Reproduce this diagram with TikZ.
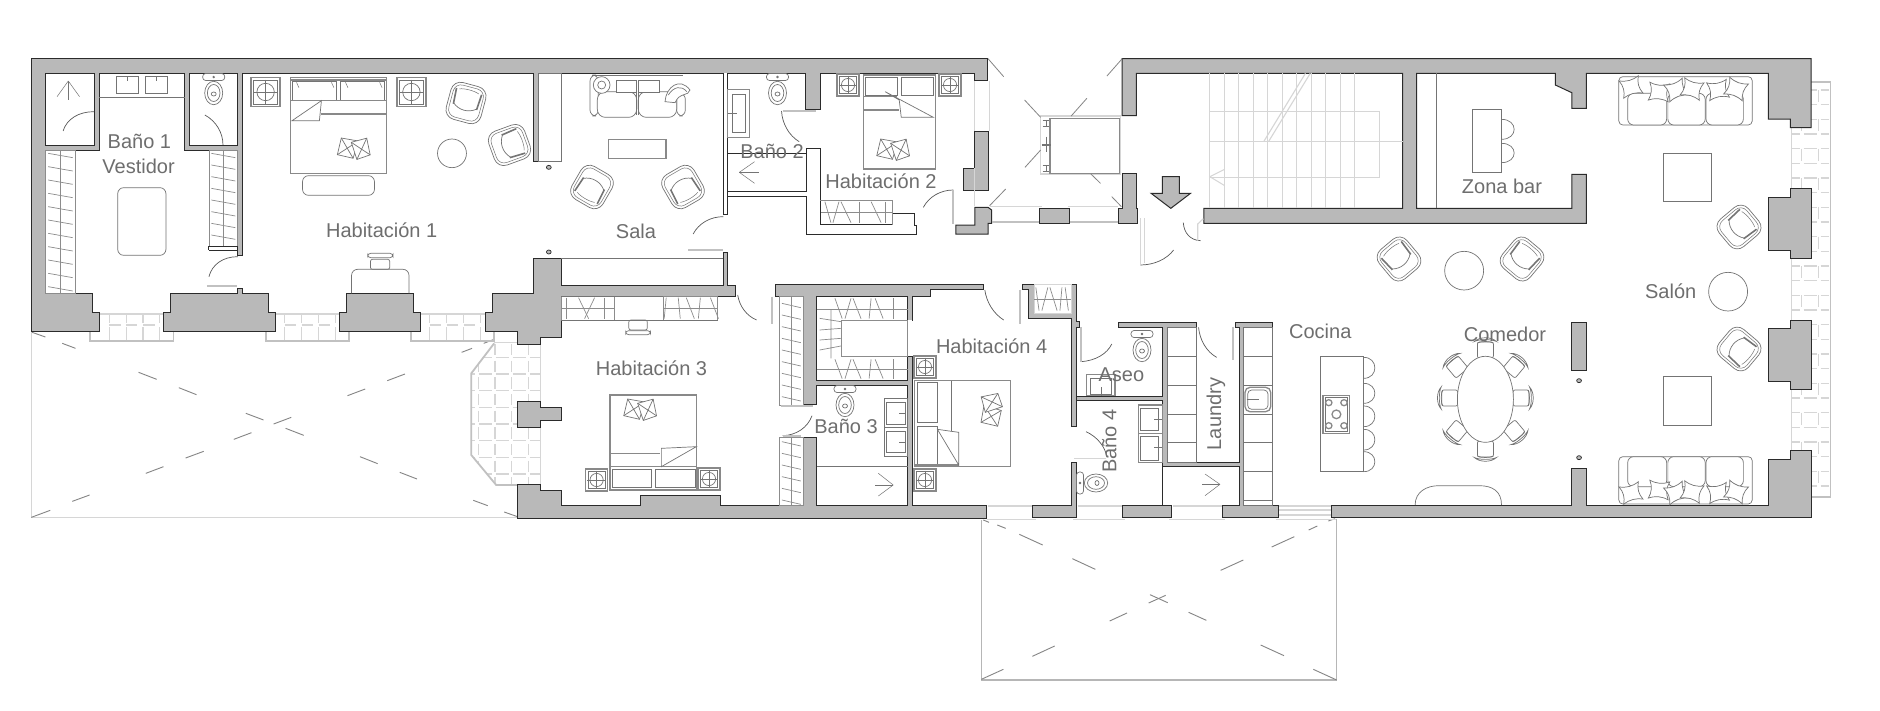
\documentclass[tikz,border=0pt]{standalone}
\usepackage{fontspec}
\usetikzlibrary{calc}
\setmainfont{Liberation Sans}
\definecolor{wallc}{HTML}{B9B9B9}
\definecolor{wline}{HTML}{2B2B2B}
\definecolor{furn}{HTML}{747474}
\definecolor{wardc}{HTML}{8C8C8C}
\definecolor{litec}{HTML}{D6D6D6}
\definecolor{dashc}{HTML}{858585}
\definecolor{txtc}{HTML}{6E6E6E}
\tikzset{
 zone/.style={shift={(0,30)},x=0.40177pt,y=-0.33333pt},
 ztwo/.style={shift={(620,30)},x=0.40177pt,y=-0.33333pt},
 zthree/.style={shift={(1250,30)},x=0.40177pt,y=-0.33333pt},
 zfour/.style={shift={(0,300)},x=0.40177pt,y=-0.33333pt},
 zfive/.style={shift={(620,270)},x=0.40177pt,y=-0.33333pt},
 zsix/.style={shift={(1250,270)},x=0.40177pt,y=-0.33333pt},
 zseven/.style={shift={(940,490)},x=0.33333pt,y=-0.33333pt},
 znine/.style={shift={(1060,300)},x=0.33333pt,y=-0.33333pt},
 zten/.style={shift={(540,60)},x=0.33333pt,y=-0.33333pt},
 wall/.style={fill=wallc,draw=wline,line width=1pt,line join=miter},
 hole/.style={fill=white,draw=wline,line width=1pt},
 thinw/.style={draw=wline,line width=.9pt},
 fur/.style={draw=furn,line width=.7pt},
 wrd/.style={draw=wardc,line width=.7pt},
 furb/.style={draw=furn!85,line width=1.3pt},
 lite/.style={draw=litec,line width=1.1pt},
 litet/.style={draw=litec!90!black,line width=1.8pt},
 dashl/.style={draw=dashc,line width=.9pt},
 doorarc/.style={draw=black!65,line width=.7pt},
 lab/.style={text=txtc,font=\fontsize{20}{22}\selectfont,inner sep=0pt},
 achair/.pic={
  \draw[fur,fill=white,rounded corners=10] (-18,-19) rectangle (18,19);
  \draw[fur,line width=.5pt,rounded corners=8] (-15.5,-16.5) -- (15.5,-16.5) -- (15.5,16.5) -- (-15.5,16.5) -- cycle;
  \draw[fur] (-12,3) .. controls (-5,9) and (5,9) .. (12,3);
  \draw[draw=furn,line width=1.6pt] (-13,-12) -- (-12,4);
  \draw[draw=furn,line width=1.6pt] (13,-12) -- (12,4);
  \draw[fur,line width=.5pt] (-10,-12) .. controls (-5,-14) and (5,-14) .. (10,-12);
 },
 wcpic/.pic={
  \draw[fur,fill=white,rounded corners=3] (-11,-19.5) rectangle (11,-12.5);
  \draw[fur,fill=white] (0,0) ellipse (9 and 11.7);
  \draw[fur] (0,0) ellipse (6.3 and 8.5);
  \draw[fur] (0,1) ellipse (2.5 and 2);
  \draw[fur,fill=furn] (0,-16) circle (.8);
 },
 decop/.pic={
  \begin{scope}[rotate=-20]
   \draw[fur,fill=white] (-16,-8) -- (1,-11) -- (2,7) -- (-14,9) -- cycle;
   \draw[fur] (-16,-8) -- (2,7) (1,-11) -- (-14,9);
  \end{scope}
  \begin{scope}[rotate=15]
   \draw[fur,fill=white] (0,-9) -- (16,-9) -- (15,8) -- (1,9) -- cycle;
   \draw[fur] (0,-9) -- (15,8) (16,-9) -- (1,9);
  \end{scope}
 },
 spil/.pic={
  \draw[fur,fill=white] (-10,-9) .. controls (-3,-6) and (3,-6) .. (10,-9)
   .. controls (7,-3) and (7,3) .. (10,9) .. controls (3,6) and (-3,6) .. (-10,9)
   .. controls (-7,3) and (-7,-3) .. (-10,-9) -- cycle;
 },
 dchair/.pic={
  \draw[fur,fill=white,rounded corners=2] (-8,-8) rectangle (8,8);
  \draw[fur,fill=white] (-11,-8.5) .. controls (-6,-13.5) and (6,-13.5) .. (11,-8.5) .. controls (6,-11) and (-6,-11) .. (-11,-8.5) -- cycle;
  \draw[fur] (-8,-7) .. controls (-4,-9) and (4,-9) .. (8,-7);
 },
}
\newcommand\door[3]{\draw[doorarc] (#1) .. controls ($(#1)!.62!(#2)$) and ($(#3)!.62!(#2)$) .. (#3);}
\newcommand\nstand[3]{%
 \draw[furb] ({#1-#3},{#2-#3}) rectangle ({#1+#3},{#2+#3});
 \draw[fur] ({#1-#3+2.5},{#2-#3+2.5}) rectangle ({#1+#3-2.5},{#2+#3-2.5});
 \draw[fur] (#1,#2) circle ({.6*#3});
 \draw[fur] ({#1-.85*#3},#2) -- ({#1+.85*#3},#2) (#1,{#2-.85*#3}) -- (#1,{#2+.85*#3});
}
\newcommand\wardV[5]{%
 \draw[wrd] (#1,#3) rectangle (#2,#4);
 \draw[wrd] ({(#1+#2)/2},#3) -- ({(#1+#2)/2},#4);
 \foreach \yy in {#5} {\draw[wrd] ({#1+6},\yy) -- ({#2-6},{\yy+13});}
}
\newcommand\wardH[5]{%
 \draw[wrd] (#1,#3) rectangle (#2,#4);
 \draw[wrd] (#1,{(#3+#4)/2}) -- (#2,{(#3+#4)/2});
 \foreach \xx/\dd in {#5} {\draw[wrd] (\xx,{#3+3}) -- ({\xx+\dd},{#4-4});}
}
\newcommand\balc[1]{%
 \draw[litet] ({#1},905) -- ({#1},933) -- ({#1+207},933) -- ({#1+207},905);
 \draw[lite] ({#1+23},852) -- ({#1+183},852) ({#1+47},885) -- ({#1+75},885) ({#1+89},885) -- ({#1+117},885) ({#1+131},885) -- ({#1+160},885);
 \foreach \dx in {47,89,131,173} {\draw[lite] ({#1+\dx},852) -- ({#1+\dx},880) ({#1+\dx},892) -- ({#1+\dx},930);}
}
\begin{document}
\begin{tikzpicture}[x=1pt,y=-1pt]
\useasboundingbox (0,0) rectangle (1880,710);
\fill[white] (0,0) rectangle (1880,710);

% --- patios
\begin{scope}[zfour]
 \draw[lite] (78,95) -- (78,652) -- (1288,652);
 \foreach \a/\b/\c/\d in {80/97/113/111,155/130/188/145,345/217/390/238,445/263/489/284,612/340/656/360,711/385/756/406,896/470/940/491,995/517/1038/537,1178/601/1214/617,1255/636/1288/650,78/652/125/631,180/604/223/585,363/520/407/500,462/474/507/454,582/418/626/398,681/372/725/352,865/287/909/267,964/242/1008/222,1149/157/1175/145,1204/130/1230/118}
  {\draw[dashl] (\a,\b) -- (\c,\d);}
 % west terrace
 \begin{scope}
  \clip (1230,130) -- (1173,220) -- (1173,465) -- (1235,555) -- (1345,555) -- (1345,130) -- cycle;
  \foreach \xx in {1190,1232,1274,1316} {\foreach \yy in {130,180,230,280,330,380,430,480,530} {\draw[lite] (\xx,{\yy+2}) -- (\xx,{\yy+36});}}
  \foreach \yy in {172,222,272,322,372,422,472,522} {\foreach \xx in {1148,1190,1232,1274,1316} {\draw[lite] ({\xx+2},\yy) -- ({\xx+34},\yy);}}
 \end{scope}
 \draw[litet] (1230,130) -- (1173,220) -- (1173,465) -- (1235,555) -- (1288,555);
 \draw[lite] (1230,127) -- (1288,127) (1345,130) -- (1345,555);
\end{scope}
\begin{scope}[zseven]
 \draw[lite,draw=litec!85!black] (124,90) -- (124,570) -- (1190,570) -- (1190,88);
 \foreach \a/\b/\c/\d in {130/90/147/97,172/105/197/115,238/133/308/165,397/206/466/238,630/314/683/338,746/367/799/391,962/465/1032/497,1120/538/1190/570,124/568/190/538,277/499/344/468,509/393/561/369,626/339/677/316,842/241/910/210,995/171/1063/140,1106/120/1132/108,1165/93/1185/86}
  {\draw[dashl] (\a,\b) -- (\c,\d);}
 \draw[lite] (143,48) -- (275,48) (140,88) -- (287,88) (413,48) -- (545,48) (400,88) -- (555,88) (700,48) -- (845,48) (688,88) -- (855,88) (1017,48) -- (1172,48) (1017,60) -- (1172,60) (1017,75) -- (1172,75) (1007,88) -- (1187,88);
\end{scope}
% --- balconies
\begin{scope}[zone]
 \balc{225}\balc{662}\balc{1023}
\end{scope}
\begin{scope}[zthree]
 \draw[litet] (1397,155) -- (1445,155) -- (1445,1400) -- (1397,1400);
 \draw[lite] (1347,293) -- (1347,476) (1347,686) -- (1347,870) (1347,1078) -- (1347,1262);
 \foreach \yy in {180,268,356,444,532,620,708,796,884,972,1060,1148,1236,1324} {\draw[lite] (1373,\yy) -- (1373,{\yy+36}) (1415,\yy) -- (1415,{\yy+36});}
 \foreach \yy in {180,224,268,312,356,400,444,488,532,576,620,664,708,752,796,840,884,928,972,1016,1060,1104,1148,1192,1236,1280,1324,1368} {\draw[lite] (1350,\yy) -- (1368,\yy) (1378,\yy) -- (1410,\yy) (1420,\yy) -- (1440,\yy);}
\end{scope}

% --- walls
\begin{scope}[zone]
 \draw[wall] (78,86) -- (2459,86) -- (2459,152) -- (2426,152) -- (2426,130) -- (2042,130) -- (2042,238) -- (2005,238) -- (2005,130) -- (1340,130) -- (1340,395) -- (1328,395) -- (1328,130) -- (604,130) -- (604,675) -- (592,675) -- (592,360) -- (460,360) -- (460,130) -- (247,130) -- (247,360) -- (114,360) -- (114,790) -- (231,790) -- (231,848) -- (248,848) -- (248,905) -- (78,905) -- cycle;
 \draw[hole] (114,130) rectangle (234,347);
 \draw[hole] (472,130) rectangle (592,347);
 \draw[wall] (425,790) -- (590,790) -- (590,776) -- (604,776) -- (604,790) -- (668,790) -- (668,848) -- (685,848) -- (685,905) -- (408,905) -- (408,848) -- (425,848) -- cycle;
 \draw[wall] (862,790) -- (1030,790) -- (1030,848) -- (1047,848) -- (1047,905) -- (845,905) -- (845,848) -- (862,848) -- cycle;
 \draw[wall] (1226,790) -- (1328,790) -- (1328,685) -- (1397,685) -- (1397,765) -- (1800,765) -- (1800,668) -- (1811,668) -- (1811,765) -- (1831,765) -- (1831,798) -- (1397,798) -- (1397,922) -- (1345,922) -- (1345,942) -- (1288,942) -- (1288,905) -- (1208,905) -- (1208,848) -- (1226,848) -- cycle;
\end{scope}
\begin{scope}[zfour]
 \draw[wall] (1288,303) -- (1345,303) -- (1345,322) -- (1397,322) -- (1397,362) -- (1345,362) -- (1345,381) -- (1288,381) -- cycle;
\end{scope}
\begin{scope}[ztwo]
 % thin white partitions
 \draw[fill=white,draw=wline,line width=.9pt] (257,130) -- (257,553) -- (268,553) -- (268,130);
 \draw[thinw] (268,485) -- (463,485) -- (463,355) -- (499,355) -- (499,582) -- (678,582) -- (678,550) -- (733,550) -- (733,585) -- (738,585) -- (738,612) -- (463,612) -- (463,498) -- (268,498);
 \draw[wall] (883,303) -- (916,303) -- (916,481) -- (855,481) -- (855,415) -- (883,415) -- cycle;
 \draw[wall] (883,532) -- (916,532) -- (925,540) -- (925,580) -- (916,580) -- (916,612) -- (836,612) -- (836,585) -- (883,585) -- cycle;
 \draw[wall] (1043,535) rectangle (1120,580);
 \draw[wall] (1250,430) -- (1285,430) -- (1285,535) -- (1288,535) -- (1288,580) -- (1240,580) -- (1240,535) -- (1250,535) -- cycle;
 \draw[wall] (1250,86) -- (2965,86) -- (2965,293) -- (2913,293) -- (2913,267) -- (2858,267) -- (2858,130) -- (2405,130) -- (2405,235) -- (2369,235) -- (2369,188) -- (2328,165) -- (2328,130) -- (1983,130) -- (1983,535) -- (2369,535) -- (2369,433) -- (2405,433) -- (2405,580) -- (1453,580) -- (1453,535) -- (1948,535) -- (1948,130) -- (1285,130) -- (1285,257) -- (1250,257) -- cycle;
\end{scope}
\begin{scope}[zthree]
 \draw[wall] (1290,502) -- (1345,502) -- (1345,476) -- (1397,476) -- (1397,686) -- (1345,686) -- (1345,662) -- (1290,662) -- cycle;
\end{scope}
\begin{scope}[zsix]
 \draw[wall] (1290,175) -- (1345,175) -- (1345,150) -- (1397,150) -- (1397,358) -- (1345,358) -- (1345,333) -- (1290,333) -- cycle;
 \draw[wall] (203,705) -- (800,705) -- (800,595) -- (838,595) -- (838,705) -- (1290,705) -- (1290,567) -- (1345,567) -- (1345,542) -- (1397,542) -- (1397,742) -- (203,742) -- cycle;
 \draw[wall] (800,156) rectangle (838,300);
 \draw[wline,line width=.7pt,fill=wallc] (819,332) circle (6);
 \draw[wline,line width=.7pt,fill=wallc] (819,563) circle (6);
\end{scope}
\begin{scope}[zfive]
 \draw[wall] (386,44) -- (905,44) -- (905,58) -- (773,58) -- (773,78) -- (728,78) -- (728,150) -- (716,150) -- (716,78) -- (490,78) -- (490,330) -- (716,330) -- (716,258) -- (728,258) -- (728,706) -- (912,706) -- (912,746) -- (-255,746) -- (-255,643) -- (-198,643) -- (-198,661) -- (-146,661) -- (-146,706) -- (52,706) -- (52,677) -- (250,677) -- (250,706) -- (456,706) -- (456,503) -- (490,503) -- (490,706) -- (716,706) -- (716,345) -- (490,345) -- (490,403) -- (456,403) -- (456,78) -- (386,78) -- cycle;
 \draw[wall] (1002,44) -- (1136,44) -- (1136,155) -- (1144,155) -- (1144,172) -- (1136,172) -- (1136,470) -- (1123,470) -- (1123,145) -- (1016,145) -- (1016,58) -- (1002,58) -- cycle;
 \draw[fill=white,draw=litec] (1030,44) -- (1123,44) -- (1123,130) -- (1030,130) -- cycle;
 \draw[wall] (1123,577) -- (1136,577) -- (1136,742) -- (1027,742) -- (1027,706) -- (1123,706) -- cycle;
\end{scope}
\begin{scope}[znine]
 \draw[wall] (175,68) -- (408,68) -- (408,82) -- (322,82) -- (322,487) -- (537,487) -- (537,82) -- (525,82) -- (525,68) -- (638,68) -- (638,82) -- (551,82) -- (551,615) -- (655,615) -- (655,652) -- (487,652) -- (487,615) -- (537,615) -- (537,500) -- (308,500) -- (308,302) -- (50,302) -- (50,288) -- (308,288) -- (308,82) -- (175,82) -- cycle;
 \draw[wall] (188,615) rectangle (335,652);
 \draw[thinw,line width=.6pt] (308,500) -- (308,615);
\end{scope}

% --- Bath 1, WC, bedroom 1 furniture
\begin{scope}[zone]
 \draw[fur] (247,202) -- (460,202);
 \draw[fur] (290,138) rectangle (344,190) (362,138) rectangle (416,190) (317,138) -- (317,152) (389,138) -- (389,152);
 \foreach \a/\b in {142/200,170/210,198/200} {\draw[fur,line width=.5pt] (170,153) -- (\a,\b);}
 \door{157,303}{172,245}{234,245}
 \door{510,255}{555,285}{555,345}
 \door{520,740}{533,680}{592,680}
 \draw[litet] (515,768) -- (590,768);
 \wardV{114}{187}{360}{790}{370,410,450,490,530,570,610,650,690,730,770}
 \wardV{520}{592}{360}{648}{370,405,440,475,510,545,580,615}
 \draw[thinw] (520,648) -- (592,648) (520,660) -- (592,660) (520,648) -- (520,660);
 \draw[fur,rounded corners=6] (293,473) rectangle (413,676);
 % bed 1
 \draw[furb] (723,142) rectangle (962,430);
 \draw[furb] (723,150) -- (962,150);
 \draw[fur] (728,155) rectangle (838,210) (848,155) rectangle (957,210);
 \foreach \a/\b in {738/165,825/165,860/165,945/165} {\draw[fur,line width=.5pt] (\a,{\b-8}) -- ({\a+6},{\b+8});}
 \draw[furb] (723,212) -- (962,212);
 \draw[furb] (800,252) -- (962,252);
 \draw[fur] (800,212) -- (727,272) -- (795,272) -- cycle;
 \draw[fur,rounded corners=6] (753,437) rectangle (932,496);
 \draw[fur] (1125,370) ellipse (36 and 43);
 % desk
 \draw[fur,rounded corners=6] (875,790) -- (875,718) -- (1018,718) -- (1018,790);
 \draw[fur,rounded corners=2] (922,718) rectangle (970,688);
 \draw[fur,rounded corners=3] (915,670) rectangle (978,683);
 % sala partition
 \draw[fur,fill=white] (1340,130) rectangle (1398,395);
 \draw[wline,line width=.7pt,fill=wallc] (1366,412) circle (6);
 \draw[wline,line width=.7pt,fill=wallc] (1366,666) circle (6);
 % desk hab 3 back
 \draw[fur] (1397,685) -- (1800,685);
 \wardH{1397}{1530}{800}{870}{1410/0,1440/25,1480/-25,1505/0}
\end{scope}
\pic[rotate=-15] at (466,103) {achair};
\pic[rotate=-70] at (509.5,145) {achair};
\nstand{265.6}{92}{14.5}
\nstand{411.4}{92}{14.5}
\pic at (213.7,93) {wcpic};
\pic at (353.6,151) {decop};

% --- Sala
\begin{scope}[zten]
 \draw[fur,rounded corners=6] (150,45) rectangle (175,168);
 \draw[fur,rounded corners=6] (410,100) rectangle (436,168);
 \draw[fur,fill=white,rounded corners=8] (172,95) rectangle (290,172);
 \draw[fur,fill=white,rounded corners=8] (295,95) rectangle (410,172);
 \draw[fur,line width=1pt] (290,95) -- (290,165) (295,95) -- (295,165);
 \draw[fur,fill=white] (228,60) rectangle (290,96);
 \draw[fur,fill=white] (295,60) rectangle (358,96);
 \draw[fur,fill=white] (185,75) circle (25);
 \draw[fur] (185,75) circle (12);
 \draw[fur,fill=white] (375,125) .. controls (378,80) and (420,50) .. (450,90) .. controls (445,110) and (420,95) .. (405,128) -- cycle;
 \draw[fur] (385,105) .. controls (400,80) and (425,75) .. (440,95);
 \draw[fur] (155,45) -- (430,45);
 \draw[furb] (205,238) rectangle (378,296);
\end{scope}
\pic[rotate=150] at (592,187) {achair};
\pic[rotate=-150] at (683,187) {achair};

% --- Bath 2 / Hab 2 / corridor
\begin{scope}[ztwo]
 \draw[furb] (268,178) rectangle (323,322);
 \draw[fur] (280,192) rectangle (311,308);
 \draw[fur] (270,250) -- (292,250);
 \draw[thinw,line width=.7pt] (268,370) -- (463,370);
 \foreach \a/\b in {335/395,345/427,335/460} {\draw[fur,line width=.5pt] (297,427) -- (\a,\b);}
 \door{402,243}{405,305}{446,335}
 \draw[litet] (405,243) -- (487,243);
 \door{182,612}{205,560}{257,560}
 \draw[litet] (170,660) -- (257,660);
 \door{755,532}{778,480}{830,480}
 \draw[litet] (828,480) -- (828,582);
 \wardH{499}{678}{512}{582}{510/15,545/-15,550/25,595/0,625/25,660/0}
 \draw[thinw] (499,512) -- (499,582) -- (678,582);
 % bed 2
 \draw[furb] (606,135) rectangle (785,417);
 \draw[fur] (610,142) rectangle (690,197) (700,142) rectangle (780,197);
 \draw[furb] (606,200) -- (690,200) (606,240) -- (695,240);
 \draw[fur,fill=white] (660,185) -- (780,262) -- (700,262) -- (695,210) -- cycle;
 % windows
 \draw[lite] (883,152) -- (883,303) (920,152) -- (920,303) (883,528) -- (883,415);
 \draw[litet] (925,575) -- (1043,575) (1120,575) -- (1240,575);
 \draw[lite] (920,530) -- (1050,530) (1115,530) -- (1240,530);
 % lift
 \draw[lite] (1047,258) rectangle (1245,432);
 \draw[furb] (1070,265) rectangle (1243,430);
 \draw[fur] (1052,272) -- (1068,272) (1060,272) -- (1060,290) (1052,290) -- (1068,290);
 \draw[fur] (1052,405) -- (1068,405) (1060,405) -- (1060,425) (1052,425) -- (1068,425);
 \draw[fur,line width=1.3pt] (1062,320) -- (1062,365) (1050,345) -- (1072,345);
 \foreach \a/\b/\c/\d in {916/86/955/140,1250/86/1212/138,1007/210/1047/262,1162/205/1123/258,1047/360/1008/412,1172/432/1196/460,960/477/920/527,1224/500/1248/530}
  {\draw[dashl,line width=.8pt] (\a,\b) -- (\c,\d);}
 % entry
 \draw[wall,line width=1pt] (1350,440) -- (1392,440) -- (1392,490) -- (1420,490) -- (1371,535) -- (1322,490) -- (1350,490) -- cycle;
 \door{1378,660}{1350,705}{1295,705}
 \draw[lite] (1295,565) -- (1295,705) (1305,565) -- (1305,700);
 \door{1402,578}{1405,630}{1445,632}
 \draw[lite] (1438,632) -- (1438,582) -- (1452,566);
 % hab 3/4 doors
 \door{293,795}{300,850}{340,870}
 \draw[litet] (378,800) -- (378,882);
 \door{908,780}{915,840}{955,870}
 \draw[litet] (995,780) -- (995,882);
 \wardH{107}{243}{800}{870}{115/-5,145/5,165/20,200/-5,225/20}
 \draw[fur] (-146,870) -- (243,870);
 \draw[fur,rounded corners=2] (22,870) rectangle (68,900);
 \draw[fur,rounded corners=3] (14,902) rectangle (76,914);
 \draw[fur] (-146,800) -- (107,800);
\end{scope}
\nstand{848}{85}{11}
\nstand{950}{85}{11}
\pic at (777.5,93) {wcpic};
\pic at (893,152) {decop};

% --- stairs, bar, salon
\begin{scope}[zthree]
 \foreach \xx in {-100,-64,-28,8,44,80,116,152,188,224,260} {\draw[lite,line width=.9pt] (\xx,130) -- (\xx,535);}
 \draw[lite,line width=.9pt] (-100,334) -- (380,334);
 \draw[lite,line width=.9pt] (-100,243) rectangle (322,443);
 \draw[lite,line width=1pt] (-63,418) -- (-100,440) -- (-63,467);
 \draw[lite] (35,333) -- (138,130) (47,333) -- (150,130);
 \draw[fur] (464,130) -- (464,535);
 \draw[fur] (554,238) rectangle (626,427);
 \draw[fur] (626,268) .. controls (668,268) and (668,328) .. (626,328);
 \draw[fur] (626,340) .. controls (668,340) and (668,398) .. (626,398);
 \draw[fur] (1028,370) rectangle (1148,514);
 \draw[fur] (533,722) ellipse (48.5 and 58);
 \draw[fur] (1190,785) ellipse (48.5 and 58);
 % upper sofa
 \draw[fur,rounded corners=4] (918,140) rectangle (1250,285);
 \draw[fur,fill=white,rounded corners=6] (940,190) rectangle (1037,285);
 \draw[fur,fill=white,rounded corners=6] (1040,190) rectangle (1133,285);
 \draw[fur,fill=white,rounded corners=6] (1135,190) rectangle (1228,285);
\end{scope}
\foreach \xx/\yy/\rr in {1631/87/15,1659/92/-5,1676/90/20,1692/89/-15,1718/90/10,1736/89/-20}
 {\pic[rotate=\rr] at (\xx,\yy) {spil};}
\pic[rotate=40] at (1399,259) {achair};
\pic[rotate=-40] at (1522,259) {achair};
\pic[rotate=-50] at (1739,227) {achair};
\pic[rotate=-130] at (1739,349) {achair};

\begin{scope}[zsix]
 \draw[fur] (1028,320) rectangle (1148,466);
 % lower sofa
 \draw[fur,rounded corners=4] (918,560) rectangle (1250,702);
 \draw[fur,fill=white,rounded corners=6] (940,560) rectangle (1037,650);
 \draw[fur,fill=white,rounded corners=6] (1040,560) rectangle (1133,650);
 \draw[fur,fill=white,rounded corners=6] (1135,560) rectangle (1228,650);
 % island
 \draw[fur] (175,258) rectangle (283,605);
 \foreach \a/\b in {262/325,340/400,408/470,478/540,545/605}
  {\draw[fur] (283,\a) .. controls (320,\a) and (320,\b) .. (283,\b);}
 \draw[furb] (182,376) rectangle (248,490);
 \draw[fur] (187,382) rectangle (243,484);
 \foreach \a/\b in {196/398,234/398,196/467,234/467} {\draw[furb] (\a,\b) ellipse (8 and 9);}
 \draw[furb] (215,433) ellipse (11 and 13);
 % half-round
 \draw[fur] (411,705) .. controls (411,665) and (440,647) .. (470,647) -- (570,647) .. controls (605,647) and (626,665) .. (626,705);
\end{scope}
\foreach \xx/\yy/\rr in {1631/493/15,1659/490/-5,1676/493/20,1692/492/-15,1718/493/10,1736/492/-20}
 {\pic[rotate=\rr] at (\xx,\yy) {spil};}
% dining
\foreach \xx/\yy/\rr in {1485.4/350/0,1485.4/449/180,1449.7/398/90,1521/398/-90,1457/367/40,1514/367/-40,1457/431/140,1514/431/-140}
 {\pic[rotate=\rr] at (\xx,\yy) {dchair};}
\draw[fur,fill=white] (1485.4,399.3) ellipse (28 and 43);

% --- central rooms
\begin{scope}[zfive]
 % closets
 \wardV{397}{456}{80}{405}{100,135,170,205,240,275,310,345,380}
 \wardV{397}{456}{503}{706}{515,550,585,620,655,690}
 \draw[wrd] (490,117) -- (716,117) (490,298) -- (716,298);
 \foreach \xx/\dd in {535/18,575/-15,580/20,625/-5,635/20,680/0} {\draw[wrd] (\xx,85) -- ({\xx+\dd},146) (\xx,268) -- ({\xx+\dd},326);}
 \draw[wrd,fill=white] (550,150) -- (716,150) -- (716,258) -- (550,258) -- cycle;
 \draw[wrd] (497,145) -- (550,155) (497,180) -- (550,175) (497,210) -- (550,205) (497,240) -- (550,228) (525,120) -- (525,265);
 \draw[fill=white,draw=none] (716.5,151) rectangle (727.5,257);
 % baño 3
 \draw[fur] (657,385) rectangle (716,472) (657,472) rectangle (716,558);
 \draw[fur] (663,397) rectangle (710,462) (663,483) rectangle (710,547);
 \draw[fur] (695,430) -- (712,430) (695,516) -- (712,516);
 \draw[fur] (490,588) -- (716,588);
 \foreach \a/\b in {643/610,635/645,643/678} {\draw[fur,line width=.5pt] (680,645) -- (\a,\b);}
 \door{478,437}{460,495}{405,497}
 \draw[litet] (400,408) -- (480,408) (405,497) -- (450,497);
 % bed 3
 \draw[furb] (-25,375) rectangle (190,660);
 \draw[furb] (-25,550) -- (100,550) (-25,590) -- (190,590);
 \draw[fur] (-20,597) rectangle (78,652) (88,597) rectangle (187,652);
 \draw[fur,fill=white] (190,530) -- (103,590) -- (103,535) -- cycle;
 % bed 4
 \draw[furb] (733,332) rectangle (972,590);
 \draw[fur] (824,332) -- (824,485);
 \draw[fur] (740,338) rectangle (790,458) (740,468) rectangle (790,585);
 \draw[furb] (733,585) -- (843,585);
 \draw[fur,fill=white] (790,478) -- (843,585) -- (843,487) -- cycle;
 % closet zig
 \draw[wrd] (1030,88) -- (1123,88);
 \foreach \xx/\dd in {1035/8,1065/-15,1070/18,1100/-5,1108/8} {\draw[wrd] (\xx,52) -- ({\xx+\dd},122);}
 % doors
 \door{1224,222}{1205,270}{1148,275}
 \draw[litet] (1148,172) -- (1148,275);
 \door{1160,485}{1205,510}{1212,562}
 \draw[lite] (1130,565) -- (1210,565);
 \door{1440,172}{1445,235}{1485,262}
 \draw[litet] (1525,170) -- (1525,270);
\end{scope}
\nstand{596.6}{480}{11}
\nstand{709}{479}{11}
\nstand{925}{367}{11}
\nstand{925}{480}{11}
\pic at (640,412) {decop};
\pic[rotate=90] at (994,410) {decop};
\pic at (845,405) {wcpic};
\pic at (1142,350) {wcpic};
\pic[rotate=90] at (1096,483) {wcpic};

\begin{scope}[znine]
 \draw[fur] (322,82) rectangle (408,487);
 \foreach \yy in {168,255,342,428} {\draw[fur] (322,\yy) -- (408,\yy);}
 \draw[fur] (551,82) rectangle (638,615);
 \foreach \yy in {168,255,342,428,515,600} {\draw[fur] (551,\yy) -- (638,\yy);}
 \draw[furb,rounded corners=5] (555,262) rectangle (632,335);
 \draw[fur,rounded corners=4] (563,270) rectangle (624,328);
 \draw[fur] (560,298) -- (596,298);
 \foreach \a/\b in {435/522,425/553,435/587} {\draw[fur,line width=.5pt] (480,553) -- (\a,\b);}
 \draw[furb] (80,224) rectangle (165,287);
 \draw[fur] (90,236) rectangle (155,283);
 \draw[fur] (123,262) -- (123,287);
 \draw[furb] (236,315) rectangle (308,400) (236,400) rectangle (308,488);
 \draw[fur] (242,325) rectangle (296,392) (242,410) rectangle (296,480);
 \draw[fur] (282,357) -- (305,357) (282,443) -- (305,443);
\end{scope}

% --- labels
\node[lab] (tb1) at (139.4,141.7) {Baño 1};
\node[lab] (tv) at (138.6,166) {Vestidor};
\node[lab] (th1) at (381.7,230) {Habitación 1};
\node[lab] (ts) at (636,231) {Sala};
\node[lab] (tb2) at (772,151.7) {Baño 2};
\node[lab] (th2) at (881,181.7) {Habitación 2};
\node[lab] (th3) at (651.5,368) {Habitación 3};
\node[lab] (th4) at (991.6,346) {Habitación 4};
\node[lab] (tb3) at (846,426.7) {Baño 3};
\node[lab] (ta) at (1121.4,375) {Aseo};
\node[lab,rotate=90] (tb4) at (1109.4,441) {Baño 4};
\node[lab,rotate=90] (tl) at (1216,414) {Laundry};
\node[lab] (tc) at (1320.3,331) {Cocina};
\node[lab] (tm) at (1505,334) {Comedor};
\node[lab] (tsa) at (1670.7,291) {Salón};
\node[lab] (tz) at (1502,186.7) {Zona bar};
\end{tikzpicture}
\end{document}
